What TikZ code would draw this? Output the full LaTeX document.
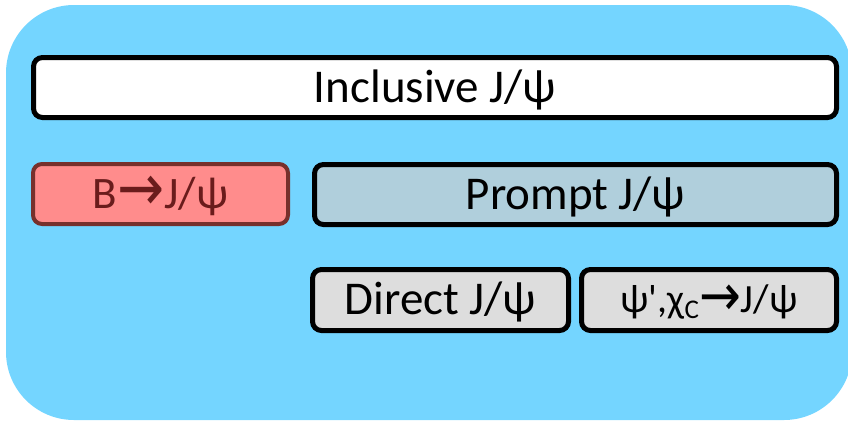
\documentclass[tikz,border=0pt]{standalone}
\usepackage{fontspec}
\usepackage{graphicx}
\setmainfont{Carlito}[Ligatures=TeXOff]
\newfontfamily\symfont{DejaVu Sans}
\definecolor{bgblue}{HTML}{74D5FF}
\definecolor{bfill}{HTML}{FF8C8C}
\definecolor{bdraw}{HTML}{77302C}
\definecolor{btext}{HTML}{6A1C1C}
\definecolor{pfill}{HTML}{B0CFDC}
\definecolor{gfill}{HTML}{DDDDDD}
\newcommand{\arr}{\raisebox{-0.12ex}{\scalebox{1.25}[1.45]{\symfont →}}}
\begin{document}
\begin{tikzpicture}[x=1pt,y=-1pt,
  box/.style={draw=black, line width=5pt, rounded corners=9pt, inner sep=0pt, anchor=north west},
  bigtext/.style={font=\fontsize{47}{50}\selectfont},
  midtext/.style={font=\fontsize{45}{48}\selectfont},
  smalltext/.style={font=\fontsize{40}{44}\selectfont}]
\useasboundingbox (0,0) rectangle (848,421);
\fill[bgblue, rounded corners=68pt] (6,5) rectangle (852,420);
\node[box, fill=white, minimum width=803pt, minimum height=60pt] (incl) at (31,55) {};
\node[bigtext] at ([yshift=-2pt]incl.center) {Inclusive J/ψ};
\node[box, draw=bdraw, line width=4pt, fill=bfill, minimum width=255pt, minimum height=60pt] (b) at (31,162) {};
\node[midtext, text=btext] at ([yshift=-2pt]b.center) {B\arr J/ψ};
\node[box, fill=pfill, minimum width=522pt, minimum height=60pt] (prompt) at (312,162) {};
\node[bigtext] at ([yshift=-2pt]prompt.center) {Prompt J/ψ};
\node[box, fill=gfill, minimum width=256pt, minimum height=61pt] (direct) at (310,267) {};
\node[bigtext] at ([yshift=-2pt]direct.center) {Direct J/ψ};
\node[box, fill=gfill, minimum width=255pt, minimum height=61pt] (feed) at (579,267) {};
\node[smalltext] at ([yshift=-2pt]feed.center) {ψ',χ\raisebox{-0.3ex}{\fontsize{27}{30}\selectfont C}\arr J/ψ};
\end{tikzpicture}
\end{document}
